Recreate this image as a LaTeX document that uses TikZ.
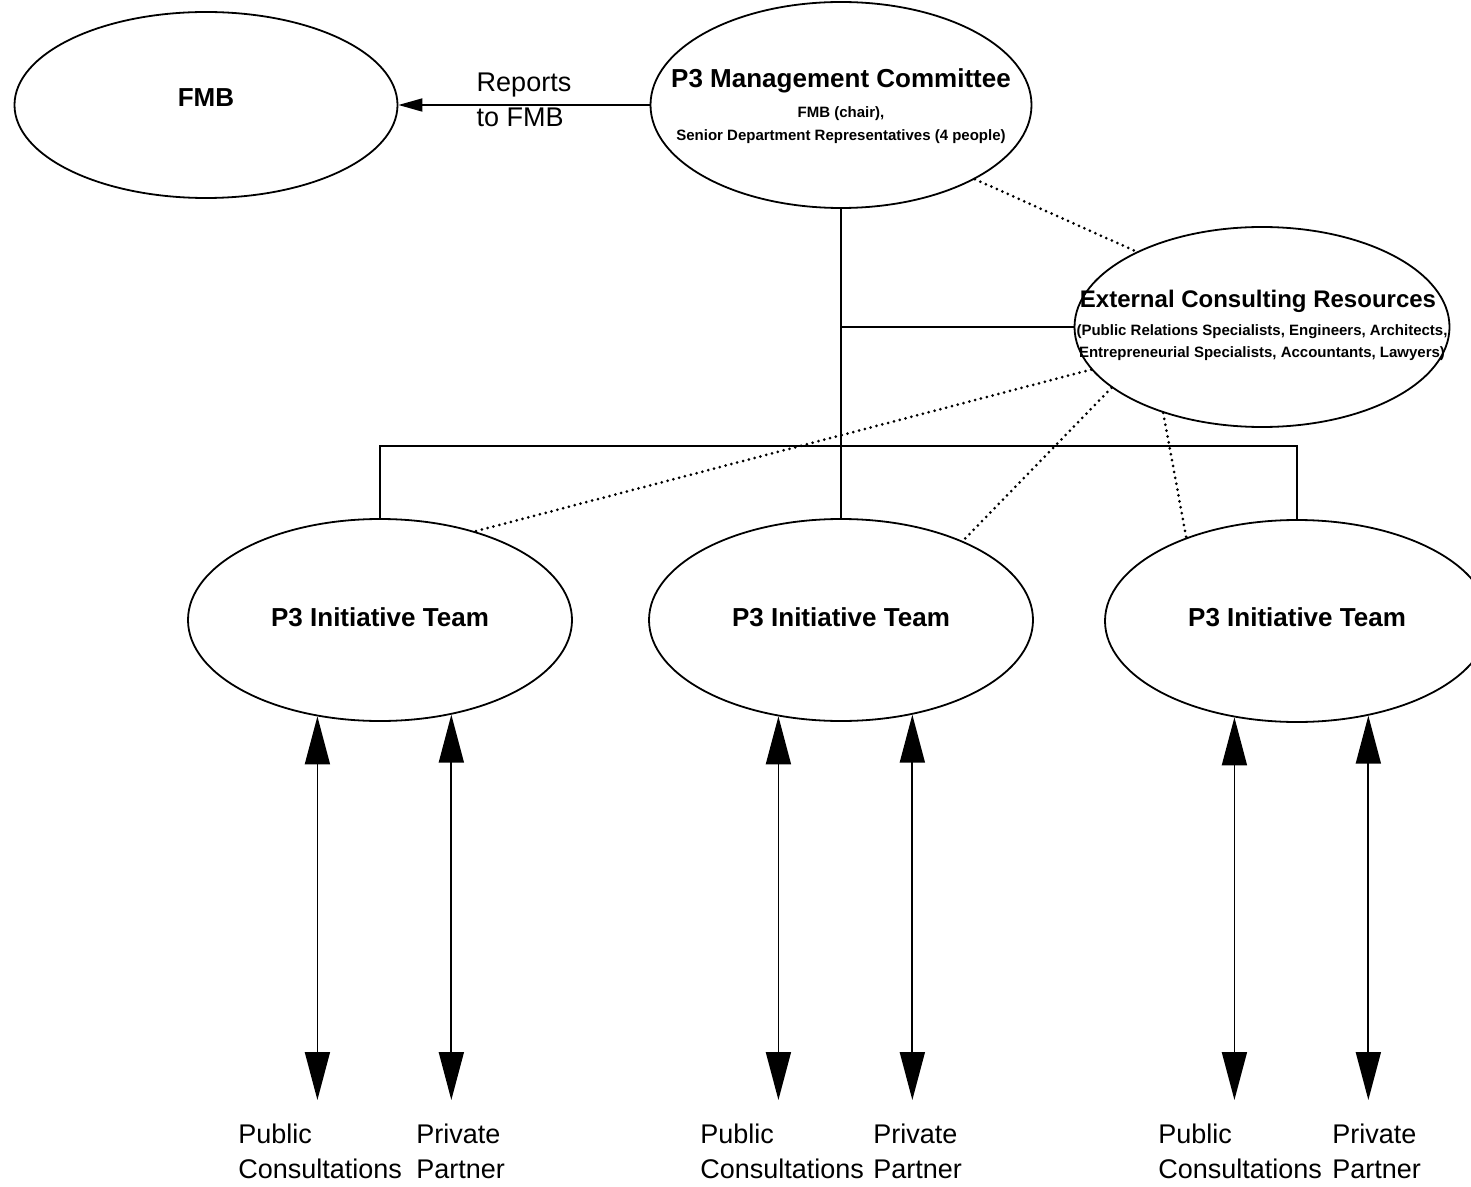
\documentclass[tikz,border=0pt]{standalone}
\usepackage{fontspec}
\setmainfont{Liberation Sans}
\usetikzlibrary{arrows.meta,positioning,shapes.geometric}

\tikzset{
  oval/.style={draw,ellipse,line width=0.9pt,inner sep=0pt,
    font=\fontsize{13}{15}\selectfont\bfseries},
  link/.style={line width=0.9pt},
  dots/.style={line width=1.5pt,line cap=round,dash pattern=on 0pt off 3pt},
  twoway/.style={line width=0.9pt,
    {Triangle[length=24pt,width=12.5pt]}-{Triangle[length=24pt,width=12.5pt]}},
  report/.style={line width=0.9pt,-{Triangle[length=12pt,width=6.5pt]}},
  title/.style={font=\fontsize{13}{15}\selectfont\bfseries,inner sep=0pt,anchor=base},
  subtext/.style={font=\fontsize{7.5}{11.5}\selectfont\bfseries,align=center,
    inner sep=0pt,anchor=north},
  tag/.style={font=\fontsize{13.5}{17.5}\selectfont,align=left,inner sep=0pt,
    anchor=north west}
}

\begin{document}
\begin{tikzpicture}[x=0.5pt,y=-0.5pt]
\useasboundingbox (0,0) rectangle (1471,1187);

% ellipses
\node[oval,minimum width=191.5pt,minimum height=93pt] (fmb) at (206,105) {};
\node[oval,minimum width=190.5pt,minimum height=103pt] (mc) at (841,105) {};
\node[oval,minimum width=187.5pt,minimum height=100pt] (ext) at (1262,327) {};
\node[oval,minimum width=192pt,minimum height=101pt] (lt) at (380,620) {};
\node[oval,minimum width=192pt,minimum height=101pt] (mt) at (841,620) {};
\node[oval,minimum width=192pt,minimum height=101pt] (rt) at (1297,621) {};

% texts
\node[title] (fmb-title) at (206,107) {FMB};
\node[title] (lt-title) at (380,626) {P3 Initiative Team};
\node[title] (mt-title) at (841,626) {P3 Initiative Team};
\node[title] (rt-title) at (1297,626) {P3 Initiative Team};
\node[title] (mc-title) at (841,88) {P3 Management Committee};
\node[subtext] (mc-sub) at (841,106)
  {FMB (chair),\\Senior Department Representatives (4 people)};
\node[title,font=\fontsize{12}{14}\selectfont\bfseries] (ext-title) at (1258,308)
  {External Consulting Resources};
\node[subtext,font=\fontsize{7.5}{11}\selectfont\bfseries] (ext-sub) at (1262,324)
  {(Public Relations Specialists, Engineers, Architects,\\Entrepreneurial Specialists, Accountants, Lawyers)};

% solid connectors
\draw[report] (mc) -- node[midway,yshift=2.5pt,align=left,
  font=\fontsize{13.5}{17.5}\selectfont] (rep) {Reports\\to FMB} (fmb);
\draw[link] (mc.south) -- (mt.north);
\draw[link] (ext.west) -- (ext.west -| mc.south);
\coordinate (bar) at (841,446);
\draw[link] (lt.north) -- (lt.north |- bar) -- (rt.north |- bar) -- (rt.north);

% dotted connectors
\draw[dots] (mc.331) -- (ext.149);
\draw[dots] (ext.194) -- (lt.43);
\draw[dots] (ext.202) -- (mt.33);
\draw[dots] (ext.221) -- (rt.143);

% two-way arrows
\coordinate (bot) at (0,1100);
\draw[twoway] (lt.237) -- (lt.237 |- bot);
\draw[twoway] (lt.307) -- (lt.307 |- bot);
\draw[twoway] (mt.237) -- (mt.237 |- bot);
\draw[twoway] (mt.307) -- (mt.307 |- bot);
\draw[twoway] (rt.237) -- (rt.237 |- bot);
\draw[twoway] (rt.307) -- (rt.307 |- bot);

% bottom labels
\node[tag] (lt-pub) at (238,1124) {Public\\Consultations};
\node[tag] (lt-prv) at (416,1124) {Private\\Partner};
\node[tag] (mt-pub) at (700,1124) {Public\\Consultations};
\node[tag] (mt-prv) at (873,1124) {Private\\Partner};
\node[tag] (rt-pub) at (1158,1124) {Public\\Consultations};
\node[tag] (rt-prv) at (1332,1124) {Private\\Partner};
\end{tikzpicture}
\end{document}
